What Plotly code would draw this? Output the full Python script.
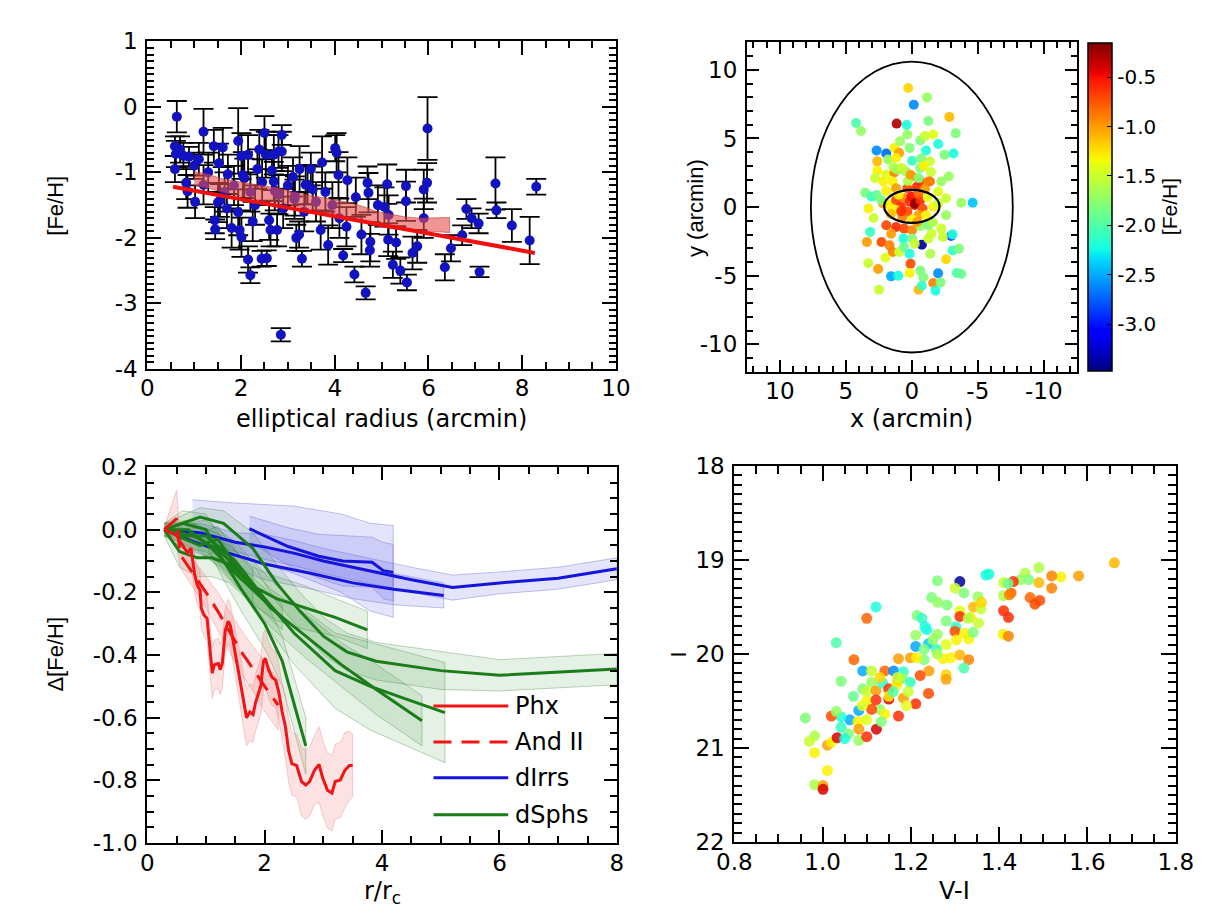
import numpy as np
import plotly.graph_objects as go

FONT_H = "DejaVu Sans, Verdana, sans-serif"          # horizontal texts (reference is wide)
FONT_V = "Liberation Sans, Arial, Helvetica, sans-serif"  # rotated texts

# ---------------- Panel 1: [Fe/H] vs elliptical radius ----------------
tl_r = [0.63, 0.59, 0.61, 0.77, 0.89, 1.00, 0.59, 0.83, 0.86, 1.02, 1.20, 1.20, 1.42, 1.61, 1.53,
        1.72, 1.44, 1.45, 1.51, 1.80, 1.94, 2.01, 2.15, 2.04, 1.94, 1.97, 2.01, 2.15, 2.20, 2.50,
        2.39, 2.53, 2.35, 2.44, 2.55, 2.87, 2.87, 2.70, 2.80, 2.70, 2.60, 2.80, 2.63, 2.77, 2.85,
        3.11, 3.15, 3.18, 3.24, 3.30, 3.42, 3.49, 3.53, 3.70, 3.73, 3.86, 4.01, 4.04, 4.08, 4.18,
        4.25, 4.27, 4.42, 4.45, 4.57, 4.66, 4.70, 4.72, 4.76, 4.75, 4.92, 5.06, 5.12, 5.15, 5.14,
        5.24, 5.31, 5.40, 5.52, 5.52, 5.54, 5.66, 5.76, 5.90, 5.97, 5.90, 5.98, 6.35, 6.48, 6.72,
        6.81, 6.92, 7.07, 7.09, 7.43, 7.45, 7.78, 8.16, 8.30,
        0.70, 1.10, 1.30, 1.65, 1.85, 2.20, 2.30, 2.45, 2.90, 3.00, 3.35, 3.60, 3.95, 4.10, 3.80,
        2.25, 1.70, 3.25, 1.55, 2.66, 3.14, 3.38, 2.72, 2.07]
tl_feh = [-0.15, -0.60, -0.72, -0.75, -0.76, -0.90, -0.95, -1.16, -1.29, -1.45, -0.38, -1.19, -0.60, -0.62, -0.86,
          -1.03, -1.73, -1.87, -1.46, -1.85, -0.52, -0.75, -0.73, -1.04, -1.61, -1.88, -1.99, -2.33, -2.57, -0.40,
          -0.65, -0.73, -0.95, -2.32, -2.31, -0.43, -0.68, -0.73, -0.68, -1.14, -1.73, -1.34, -1.88, -1.88, -3.48,
          -1.07, -1.36, -2.00, -1.95, -2.32, -1.19, -0.95, -1.26, -1.88, -0.85, -2.11, -0.63, -0.70, -1.04, -2.27,
          -1.83, -1.12, -2.56, -1.38, -1.95, -2.84, -1.16, -1.31, -2.06, -2.19, -1.50, -1.53, -1.18, -1.65, -2.03,
          -2.41, -2.07, -2.50, -1.21, -1.44, -2.68, -2.23, -2.13, -1.26, -1.16, -1.70, -0.33, -2.45, -2.16, -1.96,
          -1.56, -1.70, -1.78, -2.52, -1.17, -1.58, -1.81, -2.04, -1.22,
          -0.65, -0.80, -1.00, -1.30, -1.20, -1.30, -1.50, -1.15, -1.55, -1.20, -1.60, -1.45, -1.50, -1.70, -1.30,
          -1.75, -1.55, -0.95, -1.43, -0.97, -1.41, -1.19, -1.28, -1.09]
tl_err = [0.24, 0.15, 0.20, 0.20, 0.15, 0.20, 0.20, 0.25, 0.25, 0.25, 0.35, 0.30, 0.25, 0.30, 0.30,
          0.30, 0.20, 0.15, 0.30, 0.30, 0.50, 0.35, 0.30, 0.35, 0.35, 0.30, 0.30, 0.20, 0.12, 0.26,
          0.30, 0.35, 0.30, 0.12, 0.12, 0.15, 0.30, 0.30, 0.25, 0.30, 0.30, 0.30, 0.25, 0.25, 0.10,
          0.30, 0.30, 0.20, 0.20, 0.12, 0.30, 0.25, 0.35, 0.30, 0.40, 0.30, 0.20, 0.30, 0.35, 0.10,
          0.30, 0.35, 0.12, 0.30, 0.30, 0.10, 0.25, 0.30, 0.30, 0.25, 0.30, 0.30, 0.30, 0.30, 0.25,
          0.20, 0.25, 0.20, 0.25, 0.30, 0.12, 0.25, 0.25, 0.30, 0.30, 0.30, 0.48, 0.20, 0.20, 0.15,
          0.15, 0.15, 0.15, 0.08, 0.40, 0.12, 0.25, 0.36, 0.12,
          0.20, 0.25, 0.30, 0.30, 0.30, 0.30, 0.30, 0.35, 0.30, 0.30, 0.30, 0.30, 0.35, 0.30, 0.30,
          0.30, 0.30, 0.35, 0.25, 0.30, 0.30, 0.30, 0.30, 0.30]

band_r = [1.0, 1.3, 1.6, 1.9, 2.2, 2.5, 2.8, 3.1, 3.4, 3.7, 4.0, 4.3, 4.6, 4.9, 5.2, 5.5, 5.8, 6.1, 6.45]
band_hi = [-0.99, -1.03, -1.10, -1.14, -1.18, -1.21, -1.24, -1.30, -1.34, -1.38, -1.42, -1.46, -1.52, -1.60,
           -1.64, -1.68, -1.70, -1.70, -1.69]
band_lo = [-1.20, -1.24, -1.30, -1.35, -1.40, -1.44, -1.46, -1.50, -1.55, -1.60, -1.63, -1.68, -1.76, -1.82,
           -1.86, -1.88, -1.90, -1.90, -1.92]

fit_r = [0.55, 8.27]
fit_feh = [-1.22, -2.23]

# ---------------- Panel 2: spatial distribution ----------------
sp_x = [0.27, -1.15, -0.15, -2.84, 1.15, 0.39, -1.25, 4.22, 3.85, -3.33, 0.34, -0.64, -1.00, -1.62, 2.67,
        1.94, 1.32, 0.96, 0.17, -1.08, -2.48, -3.16, 2.62, 1.81, 1.20, -0.02, -0.71, -1.37, 2.62, 1.94,
        1.32, 0.47, -0.64, -1.45, -2.79, 2.79, 1.45, -0.02, -0.64, -1.37, -2.23, 3.53, 3.04, 2.67, 1.94,
        1.20, 0.34, -0.39, -1.00, -1.99, -2.60, -3.75, -4.61, 3.28, 2.18, 1.69, 1.20, 0.83, 0.51, 0.17,
        0.02, -0.22, -0.27, -0.64, -0.81, 0.34, 1.20, -0.51, -1.08, -1.62, -1.99, 0.71, -0.02, 1.94, 1.20,
        0.59, -0.02, -0.64, -1.25, -1.49, -2.23, -2.97, -3.09, 3.16, 1.57, 0.64, -0.02, -0.76, -0.22, 3.41,
        2.30, 1.69, 1.45, 0.17, 0.10, -1.25, -2.35, -3.09, -3.58, 2.55, 1.57, 1.03, 0.17, -0.64, -0.88,
        -1.99, -3.41, -3.75, 2.48, -0.51, -0.76, -1.62, -2.18, -1.79, 0.96,
        1.00, -0.50, 0.80, -1.20, 1.60, -0.40, 0.30, -1.60, 2.30, 2.90, -2.60, 1.40, -0.90, 0.60, -1.40,
        2.00, 0.90, -2.00, 3.30, -2.60, 1.08, 0.76, 0.10, 2.18, -0.51, -1.25]
sp_y = [8.68, 7.99, 7.45, 6.57, 6.08, 5.98, 6.27, 6.13, 5.54, 5.37, 5.29, 4.85, 5.17, 5.29, 4.12,
        3.90, 4.31, 3.95, 4.31, 4.12, 3.82, 3.90, 3.33, 3.46, 3.58, 3.38, 3.53, 3.33, 2.65, 2.35,
        2.52, 2.60, 2.84, 2.55, 2.23, 2.11, 1.86, 2.23, 1.86, 1.86, 1.86, 1.05, 0.76, 0.88, 1.18,
        1.37, 1.37, 1.50, 1.32, 1.13, 0.64, 0.32, 0.32, -0.10, 0.27, 0.15, 0.51, 0.02, 0.64, 0.39,
        0.76, 0.15, 0.27, 0.51, -0.10, -0.34, -0.22, -0.59, -0.59, 0.02, 0.27, -0.71, -0.91, -1.32, -1.45,
        -1.57, -1.69, -1.40, -1.32, -1.94, -1.57, -2.11, -1.99, -1.81, -1.94, -2.30, -2.30, -2.75, -2.67, -2.55,
        -2.55, -2.79, -3.28, -3.41, -4.14, -2.30, -2.18, -3.16, -3.04, -4.51, -5.05, -5.00, -4.80, -4.63, -5.12,
        -4.83, -4.80, -4.88, -6.03, -6.03, -5.74, -5.54, -5.49, -6.10, -3.28,
        0.90, 1.00, -0.30, 0.70, -0.50, -1.10, 1.90, -1.10, 0.50, -0.80, -0.60, 2.90, 3.00, -2.90, -3.40,
        -3.70, 4.80, 4.60, -4.10, -3.80, 2.72, 2.84, 2.35, 1.86, 2.11, 1.86]
sp_feh = [-1.20, -1.70, -2.60, -1.10, -0.30, -2.20, -1.80, -2.00, -1.70, -1.80, -1.70, -1.80, -1.50, -1.40, -2.60,
          -2.70, -1.30, -1.00, -1.80, -2.20, -1.80, -2.20, -1.10, -1.70, -1.30, -2.10, -1.80, -1.50, -1.30, -1.40,
          -0.90, -1.70, -1.80, -1.50, -1.70, -1.50, -1.30, -0.90, -0.70, -0.80, -1.70, -1.80, -2.10, -1.90, -1.30,
          -1.00, -0.70, -0.60, -1.00, -1.40, -1.50, -1.70, -2.40, -1.30, -1.00, -1.30, -0.70, -0.60, -0.90, -0.60,
          -0.50, -0.40, -0.20, -0.60, -0.70, -0.70, -1.30, -1.00, -1.30, -1.30, -1.50, -0.90, -1.30, -0.70, -0.60,
          -0.70, -0.90, -1.70, -1.80, -1.50, -1.50, -2.80, -2.20, -2.10, -1.00, -2.20, -1.80, -3.40, -1.50, -1.00,
          -0.70, -0.90, -0.90, -2.20, -0.70, -1.50, -1.50, -2.10, -1.80, -1.00, -2.50, -2.20, -1.30, -1.80, -1.80,
          -2.60, -2.00, -1.90, -1.50, -1.10, -2.10, -0.90, -1.80, -2.20, -1.50,
          -1.30, -0.80, -0.60, -1.40, -1.10, -1.00, -1.60, -1.60, -1.80, -1.50, -1.70, -1.60, -1.30, -1.90, -1.60,
          -1.40, -1.70, -2.20, -1.50, -1.20, -1.70, -1.50, -1.00, -1.30, -1.80, -0.90]

outer_ell = [0.0, 0.0, 7.65, 10.6]   # centre x, centre y, semi-axis x, semi-axis y (arcmin)
inner_ell = [0.0, 0.05, 2.1, 1.2]

# ---------------- Panel 3: metallicity gradients ----------------
phx_r = [0.292, 0.413, 0.496, 0.579, 0.689, 0.744, 0.782, 0.810, 0.854, 0.898, 0.920, 0.964, 1.019, 1.047,
         1.085, 1.107, 1.140, 1.212, 1.240, 1.278, 1.328, 1.377, 1.416, 1.471, 1.543, 1.598, 1.653, 1.691,
         1.747, 1.802, 1.846, 1.890, 1.934, 1.978, 2.011, 2.066, 2.121, 2.187, 2.242, 2.298, 2.353, 2.408,
         2.463, 2.545, 2.628, 2.700, 2.766, 2.848, 2.926, 2.986, 3.069, 3.146, 3.201, 3.289, 3.366, 3.444, 3.499]
phx_d = [0.000, -0.012, -0.018, -0.044, -0.075, -0.059, -0.106, -0.147, -0.178, -0.194, -0.251, -0.272, -0.284,
         -0.333, -0.416, -0.458, -0.432, -0.427, -0.447, -0.427, -0.323, -0.292, -0.307, -0.364, -0.437, -0.499,
         -0.561, -0.600, -0.582, -0.590, -0.551, -0.528, -0.499, -0.421, -0.411, -0.447, -0.470, -0.480, -0.520,
         -0.582, -0.628, -0.706, -0.747, -0.753, -0.804, -0.815, -0.804, -0.768, -0.749, -0.791, -0.832, -0.841,
         -0.804, -0.799, -0.768, -0.753, -0.753]
phx_e = [0.01, 0.02, 0.03, 0.04, 0.05, 0.05, 0.05, 0.06, 0.06, 0.06, 0.06, 0.07, 0.07, 0.07,
         0.08, 0.08, 0.08, 0.08, 0.08, 0.08, 0.07, 0.07, 0.07, 0.07, 0.08, 0.08, 0.09, 0.09,
         0.09, 0.09, 0.09, 0.09, 0.09, 0.09, 0.09, 0.09, 0.09, 0.09, 0.09, 0.09, 0.10, 0.10,
         0.10, 0.10, 0.11, 0.11, 0.11, 0.11, 0.12, 0.12, 0.12, 0.12, 0.12, 0.12, 0.12, 0.11, 0.10]

and_r = [0.29, 0.50, 0.56, 1.00, 1.20, 1.60, 1.75, 2.00, 2.23]
and_d = [0.0, 0.035, -0.08, -0.20, -0.26, -0.39, -0.43, -0.50, -0.56]
and_e = [0.01, 0.09, 0.04, 0.05, 0.06, 0.07, 0.07, 0.08, 0.08]

dirr_r = [[0.29, 0.9, 1.5, 2.0, 2.5, 3.0, 3.5, 4.0, 4.5, 5.2, 6.0, 7.0, 8.0],
          [0.29, 0.8, 1.3, 2.0, 2.8, 3.5, 4.2, 5.05],
          [1.74, 2.40, 2.92, 3.33, 3.83, 4.02, 4.19]]
dirr_d = [[0.0, -0.01, -0.04, -0.055, -0.075, -0.10, -0.12, -0.14, -0.16, -0.185, -0.17, -0.155, -0.125],
          [0.0, -0.04, -0.07, -0.11, -0.14, -0.17, -0.19, -0.21],
          [0.003, -0.054, -0.085, -0.10, -0.104, -0.131, -0.137]]
dirr_e = [[0.01, 0.03, 0.03, 0.04, 0.04, 0.04, 0.04, 0.04, 0.04, 0.04, 0.035, 0.035, 0.035],
          [0.01, 0.03, 0.04, 0.05, 0.05, 0.05, 0.05, 0.04],
          [0.04, 0.06, 0.07, 0.08, 0.08, 0.09, 0.09]]
dirr_band_r = [0.77, 1.5, 2.5, 3.3, 3.8, 4.19]
dirr_band_hi = [0.095, 0.085, 0.075, 0.05, 0.02, 0.013]
dirr_band_lo = [-0.04, -0.08, -0.14, -0.20, -0.26, -0.28]

dsph_r = [[0.29, 0.6, 1.0, 1.3, 1.6, 2.0, 2.3, 2.7],
          [0.29, 0.7, 1.1, 1.5, 1.9, 2.3],
          [0.29, 0.8, 1.25, 1.8, 2.2, 2.7, 3.2, 3.75],
          [0.29, 0.9, 1.3, 1.8, 2.2, 2.6, 3.0, 3.4, 3.9, 5.0, 6.0, 7.0, 8.0],
          [0.29, 0.6, 1.0, 1.5, 2.0, 2.5, 3.2, 3.8, 4.4, 5.07],
          [0.5, 0.9, 1.2, 1.6, 2.1, 2.7, 3.3, 3.9, 4.68],
          [0.29, 0.55, 0.85, 1.1, 1.4, 1.8]]
dsph_d = [[0.0, 0.02, 0.0, -0.10, -0.19, -0.30, -0.42, -0.69],
          [0.0, 0.0, -0.06, -0.14, -0.21, -0.28],
          [0.0, -0.02, -0.07, -0.18, -0.22, -0.25, -0.28, -0.32],
          [0.0, 0.04, 0.02, -0.06, -0.17, -0.26, -0.34, -0.39, -0.42, -0.45, -0.465, -0.455, -0.445],
          [0.0, -0.02, -0.02, -0.10, -0.22, -0.33, -0.45, -0.50, -0.54, -0.584],
          [-0.02, -0.05, -0.03, -0.14, -0.25, -0.34, -0.43, -0.51, -0.61],
          [0.0, -0.07, -0.09, -0.09, -0.11, -0.18]]
dsph_e = [[0.02, 0.04, 0.05, 0.06, 0.07, 0.08, 0.08, 0.09],
          [0.02, 0.03, 0.04, 0.04, 0.04, 0.04],
          [0.02, 0.04, 0.05, 0.06, 0.07, 0.07, 0.06, 0.06],
          [0.02, 0.03, 0.04, 0.05, 0.06, 0.06, 0.06, 0.06, 0.06, 0.06, 0.05, 0.05, 0.05],
          [0.02, 0.04, 0.05, 0.06, 0.08, 0.10, 0.12, 0.14, 0.15, 0.16],
          [0.03, 0.04, 0.04, 0.05, 0.06, 0.07, 0.07, 0.08, 0.08],
          [0.02, 0.05, 0.06, 0.06, 0.06, 0.06]]

legend_names = ["Phx", "And II", "dIrrs", "dSphs"]

# ---------------- Panel 4: colour-magnitude diagram ----------------
cmd_vi = [1.661, 1.580, 1.540, 1.519, 1.519, 1.490, 1.490, 1.459, 1.448, 1.467, 1.432, 1.410, 1.410, 1.427, 1.423,
          1.470, 1.481, 1.492, 1.410, 1.421, 1.409, 1.421, 1.377, 1.370, 1.311, 1.320, 1.352, 1.342, 1.359, 1.353,
          1.335, 1.311, 1.311, 1.280, 1.302, 1.300, 1.322, 1.331, 1.341, 1.260, 1.247, 1.261, 1.282, 1.260, 1.303,
          1.214, 1.225, 1.232, 1.236, 1.211, 1.211, 1.240, 1.258, 1.273, 1.290, 1.311, 1.331, 1.320, 1.280, 1.280,
          1.241, 1.221, 1.240, 1.211, 1.230, 1.199, 1.172, 1.213, 1.071, 1.100, 1.121, 1.031, 1.091, 1.111, 1.141,
          1.161, 1.183, 1.171, 1.181, 1.199, 1.042, 1.091, 1.111, 1.100, 1.121, 1.136, 1.150, 1.150, 1.168, 1.183,
          1.194, 1.100, 1.121, 1.130, 1.141, 1.111, 1.082, 1.062, 1.042, 1.020, 1.031, 1.080, 1.100, 1.122, 1.082,
          1.042, 1.059, 1.082, 1.100, 1.172, 1.133, 0.961, 0.982, 0.970, 0.982, 1.011, 1.020, 1.033, 1.011, 0.982,
          1.001, 1.001,
          1.170, 1.190, 1.150, 1.260, 1.250, 1.070, 1.130, 1.160, 1.090, 1.050, 1.230, 1.280, 1.330, 1.360, 1.300,
          1.420]
cmd_i = [19.03, 19.17, 19.18, 19.17, 19.30, 19.08, 19.24, 19.14, 19.21, 19.21, 19.23, 19.24, 19.38, 19.35, 19.37,
         19.40, 19.47, 19.43, 19.54, 19.61, 19.79, 19.81, 19.15, 19.16, 19.23, 19.35, 19.39, 19.50, 19.52, 19.67,
         19.61, 19.54, 19.60, 19.65, 19.71, 19.76, 19.78, 19.84, 19.77, 19.22, 19.40, 19.45, 19.48, 19.79, 19.85,
         19.59, 19.62, 19.71, 19.74, 19.80, 19.92, 19.89, 19.95, 20.05, 20.04, 20.01, 20.06, 20.15, 20.22, 20.27,
         20.18, 20.23, 20.42, 20.53, 20.06, 20.04, 20.05, 20.04, 20.06, 19.62, 19.50, 19.88, 20.18, 20.18, 20.18,
         20.18, 20.19, 20.28, 20.26, 20.30, 20.29, 20.37, 20.30, 20.40, 20.39, 20.31, 20.37, 20.48, 20.33, 20.47,
         20.40, 20.50, 20.49, 20.59, 20.64, 20.59, 20.60, 20.70, 20.67, 20.66, 20.61, 20.72, 20.70, 20.80, 20.80,
         20.78, 20.85, 20.92, 20.88, 20.66, 20.72, 20.68, 20.87, 20.93, 21.05, 20.97, 20.94, 20.89, 21.24, 21.39,
         21.40, 21.44,
         20.25, 20.55, 20.45, 20.00, 19.85, 20.45, 20.25, 20.40, 20.55, 20.90, 19.95, 19.90, 19.62, 19.45, 19.30,
         19.25]
cmd_feh = [-1.10, -1.00, -1.30, -0.90, -0.90, -1.60, -1.10, -1.60, -1.70, -1.80, -0.60, -1.50, -1.60, -0.80, -0.90,
           -0.80, -0.70, -0.70, -0.60, -0.60, -1.30, -0.90, -2.20, -2.20, -3.40, -1.80, -1.70, -1.10, -1.50, -1.50,
           -1.30, -1.40, -0.60, -1.80, -2.10, -0.70, -1.30, -1.30, -1.80, -1.80, -1.80, -1.70, -1.80, -1.70, -1.30,
           -1.80, -2.10, -2.20, -2.20, -1.70, -2.50, -2.40, -2.10, -1.30, -1.30, -1.10, -0.90, -2.00, -1.20, -1.00,
           -1.00, -0.70, -0.70, -0.60, -1.80, -1.00, -1.00, -1.30, -0.80, -0.80, -2.20, -2.00, -2.50, -1.50, -0.80,
           -2.60, -2.10, -0.70, -1.70, -2.10, -1.80, -1.80, -1.70, -1.50, -1.00, -2.10, -0.60, -0.40, -1.30, -1.00,
           -1.50, -1.30, -0.60, -1.70, -1.30, -0.70, -2.50, -2.50, -2.20, -0.70, -1.70, -1.30, -1.40, -0.40, -1.00,
           -2.10, -1.80, -1.70, -0.60, -0.60, -1.80, -1.80, -1.60, -1.50, -1.30, -1.00, -1.30, -0.40, -1.30, -1.60,
           -1.00, -0.40,
           -1.50, -1.40, -1.30, -1.60, -1.70, -1.90, -1.20, -2.00, -1.40, -2.20, -1.80, -1.40, -1.60, -1.20, -1.50,
           -1.90]

CMIN, CMAX = -3.47, -0.15

# ---------------- colour scale (jet) ----------------
_seg = {
    "r": [(0, 0), (0.35, 0), (0.66, 1), (0.89, 1), (1, 0.5)],
    "g": [(0, 0), (0.125, 0), (0.375, 1), (0.64, 1), (0.91, 0), (1, 0)],
    "b": [(0, 0.5), (0.11, 1), (0.34, 1), (0.65, 0), (1, 0)],
}
_stops = sorted(set(p for c in _seg.values() for p, _ in c))
jet = []
for s in _stops:
    rgb = [np.interp(s, [p for p, _ in _seg[k]], [v for _, v in _seg[k]]) for k in "rgb"]
    jet.append([s, "rgb(%d,%d,%d)" % tuple(int(round(255 * v)) for v in rgb)])

fig = go.Figure()

# Panel 1
fig.add_trace(go.Scatter(
    x=tl_r, y=tl_feh, mode="markers", xaxis="x", yaxis="y",
    marker=dict(color="#1212c0", size=10),
    error_y=dict(type="data", array=tl_err, color="black", thickness=1.8, width=10),
    showlegend=False))
fig.add_trace(go.Scatter(
    x=band_r + band_r[::-1], y=band_hi + band_lo[::-1], xaxis="x", yaxis="y",
    fill="toself", fillcolor="rgba(230,80,80,0.6)", mode="lines",
    line=dict(color="rgba(190,50,50,0.6)", width=1), showlegend=False))
fig.add_trace(go.Scatter(
    x=fit_r, y=fit_feh, mode="lines", xaxis="x", yaxis="y",
    line=dict(color="#f01010", width=4), showlegend=False))

# Panel 2
fig.add_trace(go.Scatter(
    x=sp_x, y=sp_y, mode="markers", xaxis="x2", yaxis="y2",
    marker=dict(color=sp_feh, coloraxis="coloraxis", size=10, opacity=0.92),
    showlegend=False))

# Panel 3 bands
def band(xs, ds, es, fillc, linec, ax="x3", ay="y3"):
    hi = [d + e for d, e in zip(ds, es)]
    lo = [d - e for d, e in zip(ds, es)]
    fig.add_trace(go.Scatter(x=list(xs) + list(xs)[::-1], y=hi + lo[::-1], xaxis=ax, yaxis=ay,
                             fill="toself", fillcolor=fillc, mode="lines",
                             line=dict(color=linec, width=1), showlegend=False, hoverinfo="skip"))

BLUE_F, BLUE_L = "rgba(90,90,230,0.16)", "rgba(90,90,210,0.35)"
GREEN_F, GREEN_L = "rgba(40,140,40,0.12)", "rgba(40,120,40,0.30)"
RED_F, RED_L = "rgba(240,110,110,0.20)", "rgba(230,120,120,0.35)"

fig.add_trace(go.Scatter(x=dirr_band_r + dirr_band_r[::-1], y=dirr_band_hi + dirr_band_lo[::-1],
                         xaxis="x3", yaxis="y3", fill="toself", fillcolor=BLUE_F, mode="lines",
                         line=dict(color=BLUE_L, width=1), showlegend=False, hoverinfo="skip"))
for xs, ds, es in zip(dirr_r, dirr_d, dirr_e):
    band(xs, ds, es, BLUE_F, BLUE_L)
for xs, ds, es in zip(dsph_r, dsph_d, dsph_e):
    band(xs, ds, es, GREEN_F, GREEN_L)
band(phx_r, phx_d, phx_e, RED_F, RED_L)
band(and_r, and_d, and_e, RED_F, RED_L)

for xs, ds in zip(dirr_r, dirr_d):
    fig.add_trace(go.Scatter(x=xs, y=ds, mode="lines", xaxis="x3", yaxis="y3",
                             line=dict(color="#1414dc", width=3), showlegend=False))
for xs, ds in zip(dsph_r, dsph_d):
    fig.add_trace(go.Scatter(x=xs, y=ds, mode="lines", xaxis="x3", yaxis="y3",
                             line=dict(color="#1a7d1a", width=3), showlegend=False))
fig.add_trace(go.Scatter(x=and_r, y=and_d, mode="lines", xaxis="x3", yaxis="y3",
                         line=dict(color="#f01414", width=3, dash="18px,10px"), showlegend=False))
fig.add_trace(go.Scatter(x=phx_r, y=phx_d, mode="lines", xaxis="x3", yaxis="y3",
                         line=dict(color="#f01414", width=3), showlegend=False))

# Panel 4
fig.add_trace(go.Scatter(
    x=cmd_vi, y=cmd_i, mode="markers", xaxis="x4", yaxis="y4",
    marker=dict(color=cmd_feh, coloraxis="coloraxis", size=11, opacity=0.85),
    showlegend=False))

W, H = 1210, 915
def px(x): return x / W
def py(y): return 1 - y / H

def axis(domain, rng, vals, texts, minor_dt, anchor, tl=13, ml=7, is_x=True):
    return dict(domain=domain, range=rng, anchor=anchor, showline=True, linecolor="black", linewidth=2,
                mirror="ticks", ticks="inside", ticklen=tl, tickwidth=2, tickcolor="black",
                tickmode="array", tickvals=vals, ticktext=texts,
                minor=dict(ticks="inside", ticklen=ml, tickwidth=1.5, tickcolor="black",
                           tickmode="linear", tick0=0, dtick=minor_dt),
                showgrid=False, zeroline=False, ticklabelstandoff=(-2 if is_x else 3),
                tickfont=dict(family=FONT_H, size=23, color="black"))

tl_xt = [0, 2, 4, 6, 8, 10]
tl_yt = [1, 0, -1, -2, -3, -4]
sp_t = [10, 5, 0, -5, -10]
bl_xt = [0, 2, 4, 6, 8]
bl_yt = [0.2, 0.0, -0.2, -0.4, -0.6, -0.8, -1.0]
br_xt = [0.8, 1.0, 1.2, 1.4, 1.6, 1.8]
br_yt = [18, 19, 20, 21, 22]
cb_t = [-0.5, -1.0, -1.5, -2.0, -2.5, -3.0]

fig.update_layout(
    width=W, height=H, margin=dict(l=0, r=0, t=0, b=0),
    paper_bgcolor="white", plot_bgcolor="white",
    font=dict(family=FONT_H, size=23, color="black"),
    xaxis=axis([px(125), px(608)], [0, 10], tl_xt, [str(v) for v in tl_xt], 0.5, "y", 14, 7, True),
    yaxis=axis([py(358), py(21)], [-4, 1], tl_yt, [str(v) for v in tl_yt], 0.1, "x", 14, 7, False),
    xaxis2=axis([px(743), px(1083)], [12.5, -12.5], sp_t, [str(v) for v in sp_t], 1, "y2", 12, 6, True),
    yaxis2=axis([py(361), py(22)], [-12.0, 12.0], sp_t, [str(v) for v in sp_t], 1, "x2", 12, 6, False),
    xaxis3=axis([px(125), px(609)], [0, 8], bl_xt, [str(v) for v in bl_xt], 0.5, "y3", 13, 7, True),
    yaxis3=axis([py(846), py(459)], [-1.0, 0.2], bl_yt, ["%.1f" % v for v in bl_yt], 0.05, "x3", 13, 7, False),
    xaxis4=axis([px(730), px(1185)], [0.8, 1.8], br_xt, ["%.1f" % v for v in br_xt], 0.05, "y4", 15, 8, True),
    yaxis4=axis([py(845), py(458)], [22, 18], br_yt, [str(v) for v in br_yt], 0.1, "x4", 15, 8, False),
    coloraxis=dict(
        colorscale=jet, cmin=CMIN, cmax=CMAX,
        colorbar=dict(x=px(1095), xanchor="left", y=py(191), yanchor="middle", xpad=0, ypad=0,
                      len=338 / H, lenmode="fraction", thickness=24, thicknessmode="pixels",
                      outlinewidth=1.5, outlinecolor="black",
                      tickmode="array", tickvals=cb_t, ticktext=["%.1f" % v for v in cb_t],
                      ticks="inside", ticklen=5, tickcolor="black",
                      tickfont=dict(family=FONT_H, size=20, color="black"),
                      title=dict(text="[Fe/H]", side="right",
                                 font=dict(family=FONT_V, size=21, color="black"))),
    ),
)

# ellipses in panel 2
for cx, cy, ax_, ay_ in [outer_ell, inner_ell]:
    fig.add_shape(type="circle", xref="x2", yref="y2", x0=cx - ax_, x1=cx + ax_, y0=cy - ay_, y1=cy + ay_,
                  line=dict(color="black", width=1.8 if ax_ > 5 else 2.2))

# axis titles
titles = [
    ("elliptical radius (arcmin)", px(366), py(410), 0),
    ("[Fe/H]", px(30), py(190), -90),
    ("x (arcmin)", px(913), py(410), 0),
    ("y (arcmin)", px(690), py(192), -90),
    ("Δ[Fe/H]", px(30), py(652), -90),
    ("r/r<sub>c</sub>", px(367), py(897), 0),
    ("V-I", px(957), py(895), 0),
    ("I", px(672), py(652), -90),
]
for txt, x, y, ang in titles:
    fig.add_annotation(text=txt, x=x, y=y, xref="paper", yref="paper", showarrow=False,
                       textangle=ang, xanchor="center", yanchor="middle",
                       font=dict(family=(FONT_V if ang else FONT_H), size=(22 if ang else 24), color="black"))

# legend for panel 3 (drawn manually for long line samples)
leg_rows = [705, 742, 779, 817]
leg_styles = [("#f01414", "solid"), ("#f01414", "18px,10px"), ("#1414dc", "solid"), ("#1a7d1a", "solid")]
for name, yy, (col, dsh) in zip(legend_names, leg_rows, leg_styles):
    fig.add_shape(type="line", xref="paper", yref="paper", x0=px(420), x1=px(497), y0=py(yy), y1=py(yy),
                  line=dict(color=col, width=3, dash=dsh))
    fig.add_annotation(text=name, x=px(502), y=py(yy), xref="paper", yref="paper", showarrow=False,
                       xanchor="left", yanchor="middle", font=dict(family=FONT_H, size=24, color="black"))

fig.write_html("out.html")
